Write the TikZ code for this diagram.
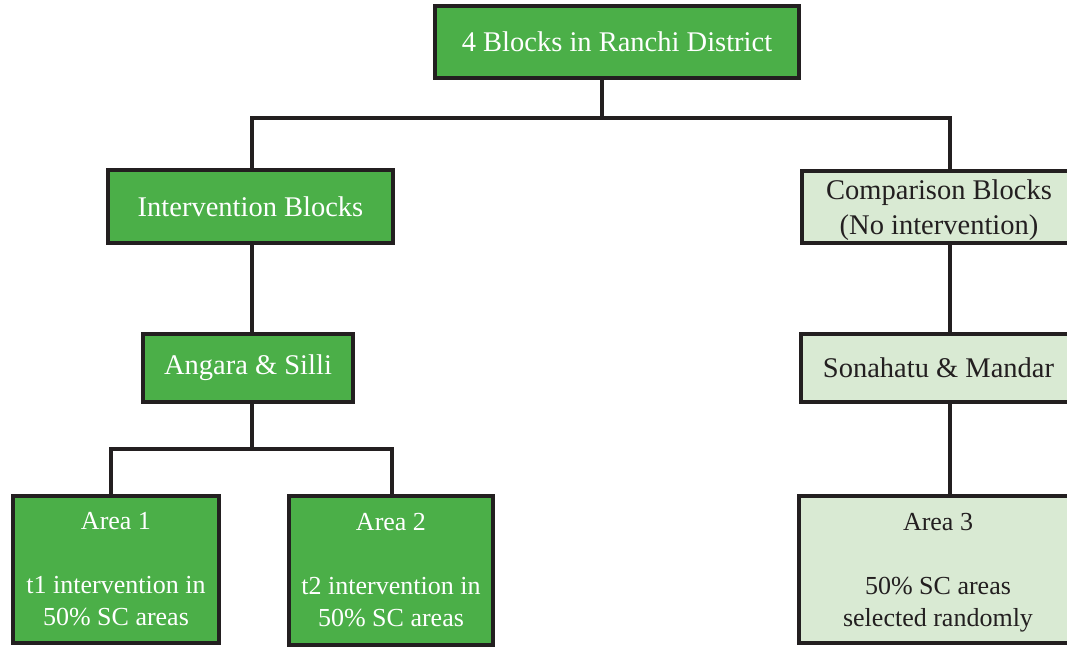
\documentclass[tikz,border=0pt]{standalone}
\usepackage{fontspec}
\setmainfont{Liberation Serif}
\definecolor{dgreen}{HTML}{4BAF48}
\definecolor{lgreen}{HTML}{D9EAD3}
\definecolor{ink}{HTML}{231F20}
\begin{document}
\begin{tikzpicture}[x=1pt,y=-1pt,
  box/.style={draw=ink,line width=3.2pt,inner sep=0pt,align=center,font=\fontsize{28.5}{35}\selectfont},
  gbox/.style={box,fill=dgreen,text=white},
  lbox/.style={box,fill=lgreen,text=ink},
  areatxt/.style={font=\fontsize{26}{32}\selectfont},
  conn/.style={draw=ink,line width=3.2pt}]
\useasboundingbox (0,0) rectangle (1067,646);
\clip (0,0) rectangle (1067,646);
\node[gbox,minimum width=364pt,minimum height=72pt] (top) at (617,42) {4 Blocks in Ranchi District};
\node[gbox,minimum width=285pt,minimum height=73pt] (interv) at (250.5,206.5) {Intervention Blocks};
\node[lbox,minimum width=274pt,minimum height=72pt] (comp) at (939,207) {Comparison Blocks\\\smash{(No intervention)}};
\node[gbox,minimum width=210pt,minimum height=68pt] (angara) at (248,368) {Angara \& Silli};
\node[lbox,minimum width=275pt,minimum height=68pt] (sona) at (938.5,368) {Sonahatu \& Mandar};
\node[gbox,areatxt,minimum width=206pt,minimum height=147pt] (area1) at (116,569.5) {Area 1\\[32pt]t1 intervention in\\50\% SC areas};
\node[gbox,areatxt,minimum width=204pt,minimum height=149pt] (area2) at (391,570.5) {Area 2\\[32pt]t2 intervention in\\50\% SC areas};
\node[lbox,areatxt,minimum width=278pt,minimum height=147pt] (area3) at (938,569.5) {Area 3\\[32pt]50\% SC areas\\\smash{selected randomly}};
\coordinate (j1) at (602,118);
\coordinate (cL) at (252,118);
\coordinate (cR) at (950,118);
\coordinate (j2) at (252,449);
\coordinate (aL) at (111,449);
\coordinate (aR) at (392,449);
\draw[conn] (top.south -| j1) -- (j1);
\draw[conn] (interv.north -| cL) -- (cL) -- (cR) -- (comp.north -| cR);
\draw[conn] (interv.south -| cL) -- (angara.north -| cL);
\draw[conn] (comp.south -| cR) -- (sona.north -| cR);
\draw[conn] (sona.south -| cR) -- (area3.north -| cR);
\draw[conn] (angara.south -| j2) -- (j2);
\draw[conn] (area1.north -| aL) -- (aL) -- (aR) -- (area2.north -| aR);
\end{tikzpicture}
\end{document}
